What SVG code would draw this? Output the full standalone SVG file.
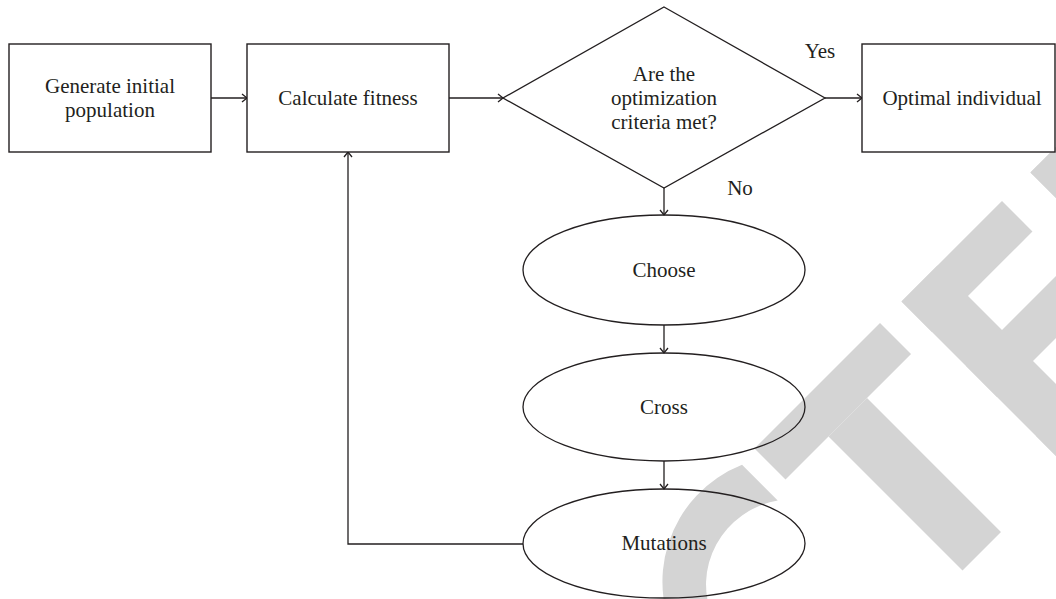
<svg xmlns="http://www.w3.org/2000/svg" width="1056" height="599" viewBox="0 0 1056 599">
<style>
.box{fill:#ffffff;stroke:#231f20;stroke-width:1.4}
.shape{fill:none;stroke:#231f20;stroke-width:1.3}
.lbl{font-family:"Liberation Serif","Times New Roman",serif;font-size:21px;fill:#231f20;text-anchor:middle}
.conn{fill:none;stroke:#231f20;stroke-width:1.3}
.wm{fill:#d4d4d4}
</style>
<defs>
<marker id="arr" markerWidth="12" markerHeight="12" refX="10" refY="6" orient="auto" markerUnits="userSpaceOnUse">
<path d="M5,2 L10,6 L5,10" fill="none" stroke="#231f20" stroke-width="1.3"/>
</marker>
</defs>
<rect x="0" y="0" width="1056" height="599" fill="#ffffff"/>
<g id="watermark" class="wm" transform="rotate(-45)">
<path d="M196,853.4 A125,124 0 1 0 146,1091 L146,1046 A83,79 0 1 1 196,903.9 Z"/>
<rect x="216.4" y="850.6" width="177.5" height="43.9"/>
<rect x="277.2" y="894.5" width="54.4" height="189.5"/>
<rect x="424.3" y="850.6" width="50.9" height="233.4"/>
<rect x="424.3" y="850.6" width="142.1" height="43.1"/>
<rect x="424.3" y="941.9" width="127.2" height="43.8"/>
<rect x="424.3" y="1040.9" width="142.1" height="43.1"/>
<rect x="606.7" y="850.6" width="50" height="233.4"/>
<rect x="606.7" y="850.6" width="100" height="43"/>
</g>
<g id="connectors">
<line class="conn" x1="211" y1="98" x2="247" y2="98" marker-end="url(#arr)"/>
<line class="conn" x1="449" y1="98" x2="503" y2="98" marker-end="url(#arr)"/>
<line class="conn" x1="825" y1="98" x2="862" y2="98" marker-end="url(#arr)"/>
<line class="conn" x1="664" y1="188" x2="664" y2="215" marker-end="url(#arr)"/>
<line class="conn" x1="664" y1="325" x2="664" y2="353" marker-end="url(#arr)"/>
<line class="conn" x1="664" y1="461" x2="664" y2="489" marker-end="url(#arr)"/>
<polyline class="conn" points="523,544 348,544 348,152" marker-end="url(#arr)"/>
<text class="lbl" x="820" y="58">Yes</text>
<text class="lbl" x="740" y="195">No</text>
</g>
<g id="node-generate">
<rect class="box" x="9" y="44" width="202" height="108"/>
<text class="lbl" x="110" y="93">Generate initial</text>
<text class="lbl" x="110" y="117">population</text>
</g>
<g id="node-fitness">
<rect class="box" x="247" y="44" width="202" height="108"/>
<text class="lbl" x="348" y="105">Calculate fitness</text>
</g>
<g id="node-decision">
<polygon class="shape" points="664,7 825,98 664,188 503,98"/>
<text class="lbl" x="664" y="81">Are the</text>
<text class="lbl" x="664" y="105">optimization</text>
<text class="lbl" x="664" y="129">criteria met?</text>
</g>
<g id="node-optimal">
<rect class="box" x="862" y="44" width="193" height="108"/>
<text class="lbl" x="962" y="105">Optimal individual</text>
</g>
<g id="node-choose">
<ellipse class="shape" cx="664" cy="270" rx="141" ry="55"/>
<text class="lbl" x="664" y="277">Choose</text>
</g>
<g id="node-cross">
<ellipse class="shape" cx="664" cy="407" rx="141" ry="54"/>
<text class="lbl" x="664" y="414">Cross</text>
</g>
<g id="node-mutations">
<ellipse class="shape" cx="664" cy="543.5" rx="141" ry="54.5"/>
<text class="lbl" x="664" y="550">Mutations</text>
</g>
</svg>
